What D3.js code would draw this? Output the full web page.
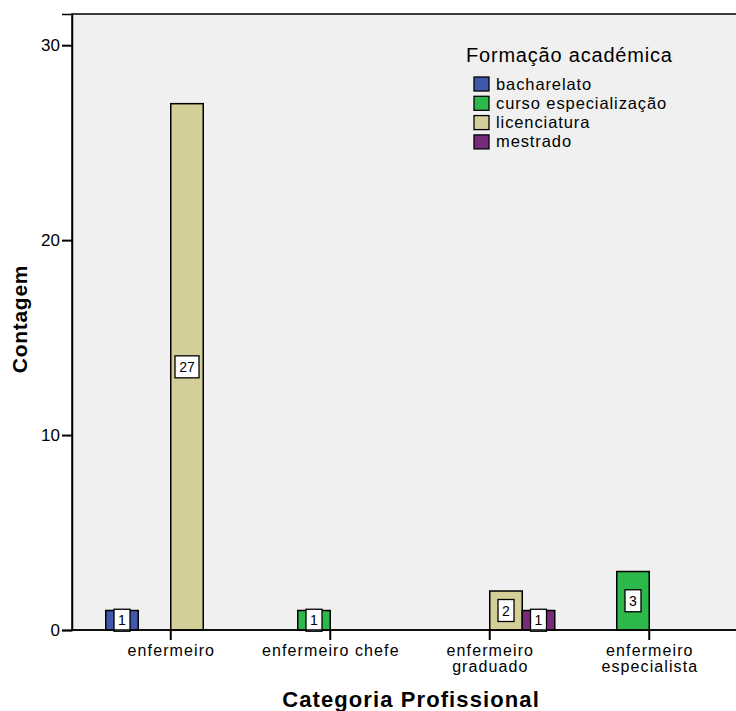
<!DOCTYPE html>
<html>
<head>
<meta charset="utf-8">
<script src="https://cdn.jsdelivr.net/npm/d3@7"></script>
<style>
  body { margin: 0; background: #fff; }
  text { font-family: "Liberation Sans", Arial, sans-serif; }
</style>
</head>
<body>
<div id="chart"></div>
<script>
// Data
const categories = ["enfermeiro", "enfermeiro chefe", "enfermeiro graduado", "enfermeiro especialista"];
const categoryLines = [["enfermeiro"], ["enfermeiro chefe"], ["enfermeiro", "graduado"], ["enfermeiro", "especialista"]];
const series = ["bacharelato", "curso especialização", "licenciatura", "mestrado"];
const seriesColors = ["#3F58AB", "#2DB84C", "#D4CF98", "#7A2A7D"];
// counts per category, in order of series (null = no bar)
const bacharelato = [1, null, null, null];
const cursoEspecializacao = [null, 1, null, 3];
const licenciatura = [27, null, 2, null];
const mestrado = [null, null, 1, null];
const yTicks = [0, 10, 20, 30];

const width = 736;
const height = 711;

const svg = d3.select('#chart')
    .append('svg')
    .attr('width', width)
    .attr('height', height);

const plotLeft = 72, plotTop = 14, plotBottom = 630;

// background of the plot
svg.append('rect')
    .attr('x', plotLeft)
    .attr('y', plotTop)
    .attr('width', width - plotLeft + 5)
    .attr('height', plotBottom - plotTop)
    .attr('fill', '#F0F0F0')
    .attr('stroke', '#000')
    .attr('stroke-width', 1.5);

const y = d3.scaleLinear()
    .domain([0, 31.6])
    .range([plotBottom, plotTop]);

const x0 = d3.scaleBand()
    .domain(categories)
    .range([91, 729])
    .padding(0);

const groupWidth = 130;
const x1 = d3.scaleBand()
    .domain(series)
    .range([(x0.bandwidth() - groupWidth) / 2, (x0.bandwidth() + groupWidth) / 2])
    .padding(0);

const values = [bacharelato, cursoEspecializacao, licenciatura, mestrado];
const bars = [];
series.forEach((s, si) => {
    values[si].forEach((v, ci) => {
        if (v != null) bars.push({ cat: categories[ci], series: s, color: seriesColors[si], value: v });
    });
});

const barG = svg.append('g');
barG.selectAll('rect')
    .data(bars)
    .enter()
    .append('rect')
    .attr('x', d => x0(d.cat) + x1(d.series))
    .attr('y', d => y(d.value))
    .attr('width', x1.bandwidth())
    .attr('height', d => y(0) - y(d.value))
    .attr('fill', d => d.color)
    .attr('stroke', '#000')
    .attr('stroke-width', 1.5);

// value labels in white boxes
const labelG = svg.append('g');
bars.forEach(d => {
    const cx = x0(d.cat) + x1(d.series) + x1.bandwidth() / 2;
    const cy = (y(d.value) + y(0)) / 2;
    const txt = String(d.value);
    const w = txt.length > 1 ? 24 : 16;
    const h = 22;
    labelG.append('rect')
        .attr('x', cx - w / 2)
        .attr('y', cy - h / 2)
        .attr('width', w)
        .attr('height', h)
        .attr('fill', '#fff')
        .attr('stroke', '#000')
        .attr('stroke-width', 1.3);
    labelG.append('text')
        .attr('x', cx)
        .attr('y', cy + 5)
        .attr('text-anchor', 'middle')
        .attr('font-size', 14)
        .text(txt);
});

// y axis
const yAxis = svg.append('g')
    .attr('transform', `translate(${plotLeft},0)`)
    .call(d3.axisLeft(y).tickValues(yTicks).tickSize(10).tickPadding(2));
yAxis.select('.domain').attr('stroke-width', 1.5);
yAxis.selectAll('.tick line').attr('stroke-width', 2);
yAxis.selectAll('.tick text')
    .attr('font-size', 17)
    .attr('font-family', '"Liberation Sans", Arial, sans-serif')
    .attr('fill', '#000');

// x axis
const xAxis = svg.append('g')
    .attr('transform', `translate(0,${plotBottom})`)
    .call(d3.axisBottom(x0).tickSize(10).tickFormat(''));
xAxis.select('.domain').remove();
svg.append('line')
    .attr('x1', plotLeft).attr('x2', width)
    .attr('y1', plotBottom).attr('y2', plotBottom)
    .attr('stroke', '#000').attr('stroke-width', 1.5);
xAxis.selectAll('.tick line').attr('stroke-width', 2);

categories.forEach((c, i) => {
    const cx = x0(c) + x0.bandwidth() / 2 + 0.6;
    const t = svg.append('text')
        .attr('x', cx)
        .attr('y', 656)
        .attr('text-anchor', 'middle')
        .attr('font-size', 16)
        .attr('letter-spacing', 1.1);
    categoryLines[i].forEach((line, li) => {
        t.append('tspan')
            .attr('x', cx)
            .attr('dy', li === 0 ? 0 : 16)
            .text(line);
    });
});

// axis titles
svg.append('text')
    .attr('transform', 'translate(27,319) rotate(-90)')
    .attr('text-anchor', 'middle')
    .attr('font-size', 21)
    .attr('font-weight', 'bold')
    .attr('letter-spacing', 0.7)
    .text('Contagem');

svg.append('text')
    .attr('x', 411)
    .attr('y', 707)
    .attr('text-anchor', 'middle')
    .attr('font-size', 22)
    .attr('font-weight', 'bold')
    .attr('letter-spacing', 1.1)
    .text('Categoria Profissional');

// legend
const legend = svg.append('g');
legend.append('text')
    .attr('x', 466)
    .attr('y', 62)
    .attr('font-size', 20)
    .attr('letter-spacing', 0.8)
    .text('Formação académica');

series.forEach((s, i) => {
    const yy = 77 + i * 19.3;
    legend.append('rect')
        .attr('x', 474)
        .attr('y', yy)
        .attr('width', 15)
        .attr('height', 14)
        .attr('fill', seriesColors[i])
        .attr('stroke', '#000')
        .attr('stroke-width', 1.3);
    legend.append('text')
        .attr('x', 496)
        .attr('y', yy + 12.5)
        .attr('font-size', 16.5)
        .attr('letter-spacing', 0.9)
        .text(s);
});
</script>
</body>
</html>
